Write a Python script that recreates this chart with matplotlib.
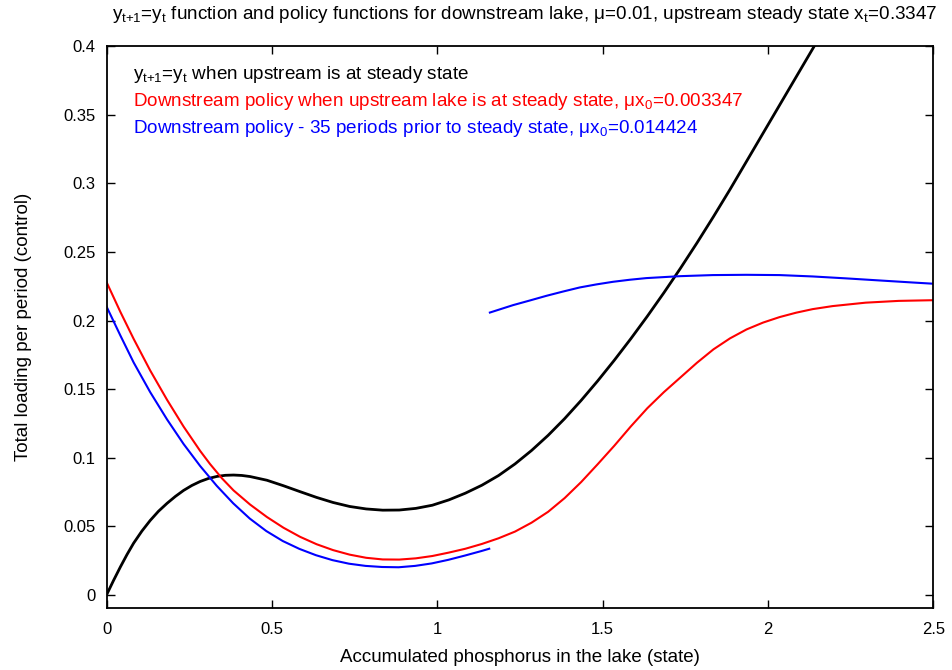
import matplotlib
matplotlib.use("Agg")
import matplotlib.pyplot as plt
from matplotlib.ticker import FixedLocator, FixedFormatter

plt.rcParams['font.family'] = ['Liberation Sans', 'DejaVu Sans']
plt.rcParams['mathtext.default'] = 'regular'
plt.rcParams['mathtext.fontset'] = 'custom'
plt.rcParams['mathtext.rm'] = 'Liberation Sans'

# y_{t+1} = y_t curve (black)
black_x = [0, 0.021, 0.042, 0.062, 0.082, 0.107, 0.132, 0.157, 0.183, 0.208, 0.233, 0.258,
           0.283, 0.308, 0.334, 0.359, 0.384, 0.409, 0.434, 0.485, 0.535, 0.585, 0.635,
           0.685, 0.735, 0.785, 0.835, 0.885, 0.935, 0.985, 1.035, 1.085, 1.135, 1.185,
           1.235, 1.285, 1.335, 1.385, 1.435, 1.485, 1.535, 1.585, 1.635, 1.685, 1.735,
           1.785, 1.835, 1.885, 1.935, 1.985, 2.035, 2.085, 2.135, 2.185]
black_y = [0, 0.0105, 0.0205, 0.0295, 0.0378, 0.0466, 0.0543, 0.0610, 0.0668, 0.0718, 0.0762, 0.0798,
           0.0827, 0.0849, 0.0864, 0.0872, 0.0874, 0.0871, 0.0863, 0.0836, 0.0796, 0.0753, 0.0711,
           0.0674, 0.0645, 0.0627, 0.0618, 0.0619, 0.0631, 0.0654, 0.0693, 0.0742, 0.0800, 0.0870,
           0.0955, 0.1053, 0.1163, 0.1285, 0.1418, 0.156, 0.171, 0.1867, 0.2031, 0.2202, 0.2380,
           0.2565, 0.2757, 0.2955, 0.316, 0.3365, 0.357, 0.3775, 0.398, 0.4185]

# Downstream policy, upstream at steady state (red)
red_x = [0, 0.042, 0.082, 0.132, 0.183, 0.233, 0.283, 0.313, 0.349, 0.384, 0.434, 0.485,
         0.535, 0.585, 0.635, 0.685, 0.735, 0.785, 0.835, 0.885, 0.935, 0.985, 1.035, 1.085,
         1.135, 1.185, 1.235, 1.285, 1.335, 1.385, 1.435, 1.485, 1.535, 1.585, 1.635, 1.685,
         1.735, 1.785, 1.835, 1.885, 1.935, 1.985, 2.035, 2.085, 2.135, 2.195, 2.295, 2.395, 2.5]
red_y = [0.228, 0.2062, 0.1866, 0.1636, 0.1422, 0.1227, 0.105, 0.0954, 0.085, 0.0762, 0.0659, 0.0568,
         0.0490, 0.0424, 0.0370, 0.0327, 0.0294, 0.0271, 0.0259, 0.0258, 0.0267, 0.0284, 0.0309, 0.0337,
         0.0372, 0.0413, 0.0462, 0.0527, 0.0606, 0.0706, 0.0823, 0.0953, 0.1087, 0.1228, 0.1361, 0.1478,
         0.1585, 0.1692, 0.1790, 0.1870, 0.1935, 0.1985, 0.2025, 0.2057, 0.2083, 0.2105, 0.2130, 0.2143, 0.2148]

# Downstream policy, 35 periods prior to steady state (blue), two branches
blue_x1 = [0, 0.042, 0.082, 0.132, 0.183, 0.233, 0.283, 0.333, 0.383, 0.433, 0.483, 0.533,
           0.583, 0.633, 0.683, 0.733, 0.783, 0.833, 0.883, 0.933, 0.983, 1.033, 1.083, 1.133,
           1.157]
blue_y1 = [0.2102, 0.1890, 0.1694, 0.1478, 0.1279, 0.1100, 0.0940, 0.0796, 0.0668, 0.0557, 0.0466, 0.0393,
           0.0336, 0.0290, 0.0254, 0.0228, 0.0212, 0.0204, 0.0202, 0.0212, 0.0230, 0.0256, 0.0287, 0.0320,
           0.0337]
blue_x2 = [1.159, 1.229, 1.280, 1.330, 1.380, 1.431, 1.481, 1.531, 1.582, 1.632, 1.733, 1.833,
           1.934, 2.035, 2.135, 2.236, 2.336, 2.437, 2.5]
blue_y2 = [0.2058, 0.2112, 0.2146, 0.218, 0.2211, 0.2241, 0.2263, 0.2282, 0.2297, 0.2309, 0.2323, 0.2331,
           0.2333, 0.2331, 0.2321, 0.2307, 0.2292, 0.2277, 0.2268]

x_ticks = [0, 0.5, 1, 1.5, 2, 2.5]
x_tick_labels = ["0", "0.5", "1", "1.5", "2", "2.5"]
y_ticks = [0, 0.05, 0.1, 0.15, 0.2, 0.25, 0.3, 0.35, 0.4]
y_tick_labels = ["0", "0.05", "0.1", "0.15", "0.2", "0.25", "0.3", "0.35", "0.4"]

title = r"$y_{t{+}1}$=$y_t$ function and policy functions for downstream lake, μ=0.01, upstream steady state $x_t$=0.3347"
legend_labels = [r"$y_{t{+}1}$=$y_t$ when upstream is at steady state",
                 r"Downstream policy when upstream lake is at steady state, μ$x_0$=0.003347",
                 r"Downstream policy - 35 periods prior to steady state, μ$x_0$=0.014424"]
legend_colors = ["black", "#ff0000", "#0000ff"]

fig = plt.figure(figsize=(9.52, 6.70), dpi=100)
ax = fig.add_axes([0.1119, 0.0925, 0.8686, 0.8388])

ax.plot(black_x, black_y, color="black", lw=2.0)
ax.plot(red_x, red_y, color="#ff0000", lw=1.5)
ax.plot(blue_x1, blue_y1, color="#0000ff", lw=1.5)
ax.plot(blue_x2, blue_y2, color="#0000ff", lw=1.5)

ax.set_xlim(0, 2.5)
ax.set_ylim(-0.0095, 0.4)

ax.xaxis.set_major_locator(FixedLocator(x_ticks))
ax.xaxis.set_major_formatter(FixedFormatter(x_tick_labels))
ax.yaxis.set_major_locator(FixedLocator(y_ticks))
ax.yaxis.set_major_formatter(FixedFormatter(y_tick_labels))
ax.tick_params(direction="in", length=6, width=1.0, top=True, right=True,
               labelsize=12, colors="black")
ax.tick_params(axis="x", pad=10)
ax.tick_params(axis="y", pad=8)
for s in ax.spines.values():
    s.set_linewidth(1.3)

ax.set_xlabel("Accumulated phosphorus in the lake (state)", fontsize=13.5, labelpad=9)
ax.set_ylabel("Total loading per period (control)", fontsize=13.5, labelpad=22)

fig.text(0.551, 0.978, title, ha="center", va="center", fontsize=13.6)

ys = [0.950, 0.902, 0.854]
for lab, col, yy in zip(legend_labels, legend_colors, ys):
    ax.text(0.032, yy, lab, color=col, fontsize=13.6, ha="left", va="center",
            transform=ax.transAxes)

fig.savefig("out.png", dpi=100)
